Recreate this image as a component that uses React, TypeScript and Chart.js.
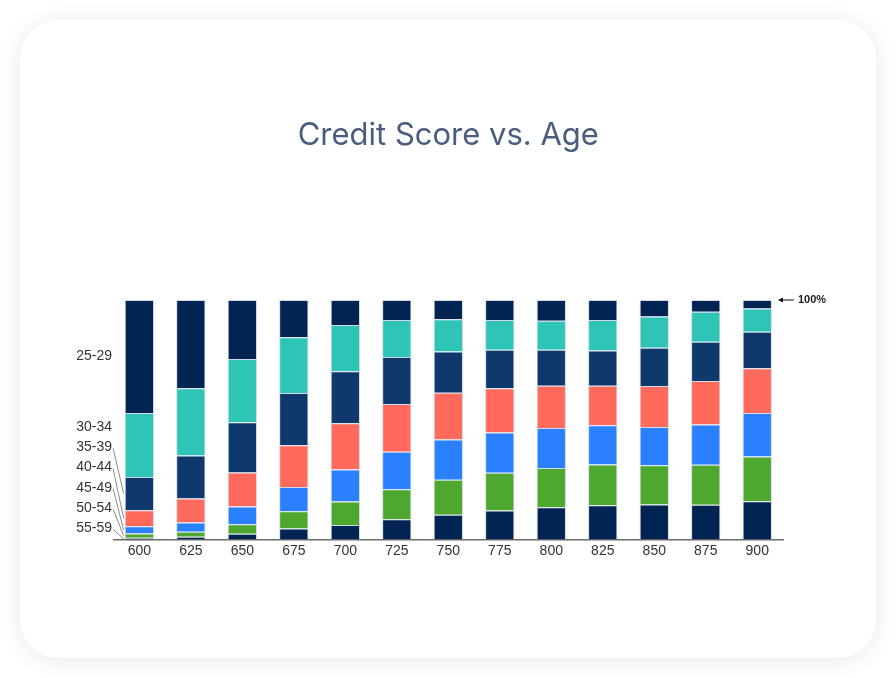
import { useEffect, useRef } from "react"
import { Chart, registerables } from "chart.js"

Chart.register(...registerables)

const creditScores = ["600", "625", "650", "675", "700", "725", "750", "775", "800", "825", "850", "875", "900"]

// age groups, bottom of the stack first
const ageGroups = ["55-59", "50-54", "45-49", "40-44", "35-39", "30-34", "25-29"]

const age5559 = [0.7, 1.1, 2.4, 4.6, 6.1, 8.5, 10.3, 12.1, 13.5, 14.3, 14.6, 14.5, 16.0]
const age5054 = [1.8, 2.1, 4.0, 7.2, 9.8, 12.5, 14.6, 15.8, 16.4, 17.0, 16.4, 16.7, 18.7]
const age4549 = [3.0, 3.9, 7.4, 10.1, 13.3, 15.6, 16.9, 16.8, 16.7, 16.4, 16.0, 16.8, 18.1]
const age4044 = [6.7, 10.0, 14.2, 17.5, 19.3, 20.0, 19.5, 18.5, 17.6, 16.5, 17.1, 18.2, 18.7]
const age3539 = [13.9, 18.0, 21.0, 21.8, 21.7, 19.6, 17.2, 16.0, 15.0, 14.7, 16.0, 16.4, 15.2]
const age3034 = [26.7, 28.1, 26.4, 23.2, 19.4, 15.5, 13.5, 12.5, 12.1, 12.8, 13.0, 12.5, 9.8]
const age2529 = [47.2, 36.8, 24.6, 15.6, 10.4, 8.3, 8.0, 8.3, 8.7, 8.3, 6.9, 4.9, 3.5]

const seriesValues = [age5559, age5054, age4549, age4044, age3539, age3034, age2529]
const seriesColors = ["#022452", "#4ea72e", "#2a80ff", "#ff6a5c", "#0f396d", "#2ec4b6", "#022452"]

const labelFont = "14px 'Liberation Sans', Arial, sans-serif"

// age labels on the left of the first bar, with leader lines where they had to move
const ageLabels = {
  id: "ageLabels",
  afterDatasetsDraw(chart: Chart) {
    const { ctx, chartArea } = chart
    ctx.save()
    ctx.font = labelFont
    ctx.fillStyle = "#333"
    ctx.textAlign = "right"
    ctx.textBaseline = "middle"
    ctx.strokeStyle = "#8a8a8a"
    ctx.lineWidth = 1
    let prev = chartArea.bottom - 11 + 20.3
    chart.data.datasets.forEach((ds, i) => {
      const bar: any = chart.getDatasetMeta(i).data[0]
      const top = Math.min(bar.y, bar.base)
      const bottom = Math.max(bar.y, bar.base)
      const center = (top + bottom) / 2
      const y = Math.min(center, prev - 20.3)
      prev = y
      ctx.fillText(ds.label as string, chartArea.left - 1.5, y)
      if (y < top || y > bottom) {
        ctx.beginPath()
        ctx.moveTo(chartArea.left - 0.5, y + 1)
        ctx.lineTo(bar.x - bar.width / 2 - 1, center)
        ctx.stroke()
      }
    })
    // 100% marker
    const last: any = chart.getDatasetMeta(0).data[creditScores.length - 1]
    const yTop = chart.scales.y.getPixelForValue(100)
    const x0 = last.x + last.width / 2 + 6
    ctx.strokeStyle = "#111"
    ctx.fillStyle = "#111"
    ctx.beginPath()
    ctx.moveTo(x0 + 3, yTop)
    ctx.lineTo(x0 + 16, yTop)
    ctx.stroke()
    ctx.beginPath()
    ctx.moveTo(x0, yTop)
    ctx.lineTo(x0 + 5, yTop - 2.5)
    ctx.lineTo(x0 + 5, yTop + 2.5)
    ctx.closePath()
    ctx.fill()
    ctx.font = "bold 11px 'Liberation Sans', Arial, sans-serif"
    ctx.textAlign = "left"
    ctx.fillStyle = "#222"
    ctx.fillText("100%", x0 + 20, yTop)
    ctx.restore()
  },
}

export default function App() {
  const chartRef = useRef<HTMLCanvasElement>(null)
  const chartInstance = useRef<Chart | null>(null)

  useEffect(() => {
    const canvas = chartRef.current
    if (!canvas) return
    const ctx = canvas.getContext("2d")
    if (!ctx) return

    if (chartInstance.current) {
      chartInstance.current.destroy()
    }

    chartInstance.current = new Chart(ctx, {
      type: "bar",
      data: {
        labels: creditScores,
        datasets: ageGroups.map((group, i) => ({
          label: group,
          data: seriesValues[i],
          backgroundColor: seriesColors[i],
          borderColor: "rgba(205,214,228,0.9)",
          borderWidth: 1,
          barPercentage: 0.57,
          categoryPercentage: 1,
        })),
      },
      options: {
        responsive: true,
        maintainAspectRatio: false,
        animation: false,
        layout: {
          padding: { left: 93.6, right: 93, top: 0, bottom: 94.7 },
        },
        plugins: {
          legend: { display: false },
          tooltip: { enabled: false },
          title: {
            display: true,
            text: "Credit Score vs. Age",
            color: "#4a5d7f",
            font: { family: "Inter, 'Noto Sans', sans-serif", size: 31, weight: "normal" },
            padding: { top: 96.6, bottom: 146.2 },
          },
        },
        scales: {
          x: {
            stacked: true,
            grid: { display: false, drawTicks: false },
            border: { display: true, color: "#6b6b6b", width: 1.5 },
            ticks: {
              color: "#333",
              padding: 3.5,
              font: { family: "'Liberation Sans', Arial, sans-serif", size: 14 },
            },
          },
          y: {
            stacked: true,
            display: false,
            min: 0,
            max: 100,
          },
        },
      },
      plugins: [ageLabels],
    })

    return () => {
      if (chartInstance.current) {
        chartInstance.current.destroy()
        chartInstance.current = null
      }
    }
  }, [])

  return (
    <div style={{ position: "fixed", inset: 0, background: "#fff" }}>
      <div
        style={{
          position: "absolute",
          left: 20,
          top: 20,
          width: 856,
          height: 638,
          borderRadius: 38,
          background: "#fff",
          boxShadow: "0 2px 22px rgba(0,0,0,0.09)",
        }}
      >
        <canvas ref={chartRef}></canvas>
      </div>
    </div>
  )
}
